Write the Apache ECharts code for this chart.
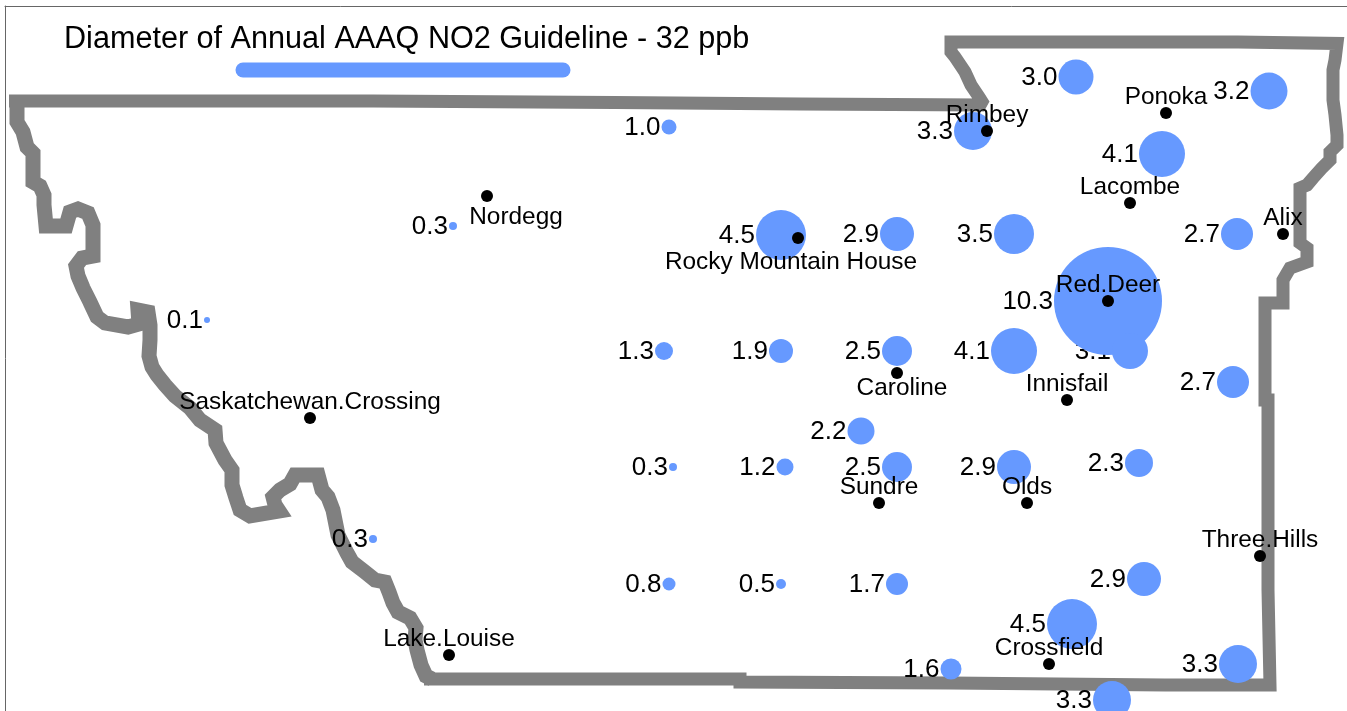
<!DOCTYPE html>
<html>
<head>
<meta charset="utf-8">
<title>Annual AAAQ NO2</title>
<script src="https://cdn.jsdelivr.net/npm/echarts@6/dist/echarts.min.js"></script>
<style>
  html, body { margin: 0; padding: 0; background: #fff; }
  #chart { width: 1347px; height: 711px; }
</style>
</head>
<body>
<div id="chart"></div>
<script>
// map outline, [x, y] in map units
// the western edge is the rough, heavier part
const boundaryWest = [
  [432, 679], [426, 676],
  [421, 665], [417, 650], [415, 640], [416, 628], [410, 618], [398, 612], [393, 603], [389, 592], [385, 582],
  [375, 580], [365, 572], [352, 562], [347, 553], [338, 535], [333, 510], [328, 497], [322, 490], [318, 475],
  [295, 475], [290, 484], [280, 490], [273, 497], [275, 505], [279, 511], [250, 516], [240, 510], [236, 498],
  [232, 485], [232, 470], [225, 460], [216, 443], [215, 430], [200, 420], [190, 408], [175, 396], [165, 385],
  [157, 375], [152, 367], [149, 356], [150, 340], [150, 325], [148, 312], [138, 310], [139, 324], [128, 327],
  [105, 323], [97, 317], [90, 302], [83, 288], [78, 276], [76, 266], [82, 258], [93, 256], [93, 225], [88, 213],
  [78, 209], [70, 212], [66, 226], [46, 226], [44, 205], [44, 195], [40, 186], [33, 182], [33, 153], [27, 147],
  [23, 132], [17, 122], [17, 100]
];
const boundaryRest = [
  [9, 101], [373, 101], [373, 102.5], [615, 102.5], [615, 104], [800, 104], [800, 105],
  [984, 105], [979, 97], [971, 85], [965, 72], [955, 57], [951, 52], [951, 42], [1238, 42], [1238, 43.5],
  [1337, 43.5], [1335, 60], [1333, 70], [1333, 100], [1335, 115], [1337, 135], [1337, 145], [1330, 152],
  [1330, 160], [1322, 168], [1313, 178], [1307, 185], [1300, 188], [1300, 243], [1307, 248], [1307, 262],
  [1290, 268], [1283, 280], [1283, 303], [1265, 303], [1265, 400], [1268, 400], [1268, 590], [1270, 590], [1270, 685],
  [1165, 685], [1165, 683], [950, 683], [950, 682], [740, 682], [740, 679], [424, 679]
];

// scale bar under the title, map units
const legendBar = [[243, 70], [563, 70]];

// annual NO2 at each grid point
const gridX = [669, 1076, 1269, 973, 1162, 453, 781, 897, 1014, 1237, 1108, 207, 664, 781, 897, 1014, 1130, 1233, 861, 673, 785, 897, 1014, 1139, 373, 669, 781, 897, 1144, 1072, 951, 1238, 1112];
const gridY = [127, 77, 91, 131, 154, 226, 235, 234, 234, 234, 301, 320, 351, 351, 351, 351, 351, 382, 431, 467, 467, 467, 467, 463, 539, 584, 584, 584, 579, 624, 669, 664, 700];
const no2Values = ['1.0', '3.0', '3.2', '3.3', '4.1', '0.3', '4.5', '2.9', '3.5', '2.7', '10.3', '0.1', '1.3', '1.9', '2.5', '4.1', '3.1', '2.7', '2.2', '0.3', '1.2', '2.5', '2.9', '2.3', '0.3', '0.8', '0.5', '1.7', '2.9', '4.5', '1.6', '3.3', '3.3'];

// towns
const townNames = ['Rimbey', 'Ponoka', 'Lacombe', 'Alix', 'Red.Deer', 'Innisfail', 'Sundre', 'Olds', 'Three.Hills', 'Crossfield', 'Lake.Louise', 'Saskatchewan.Crossing'];
const townX = [987, 1166, 1130, 1283, 1108, 1067, 879, 1027, 1260, 1049, 449, 310];
const townY = [131, 113, 203, 234, 301, 400, 503, 503, 556, 664, 655, 418];

// these have their names set below the dot
const lowNames = ['Nordegg', 'Rocky Mountain House', 'Caroline'];
const lowX = [487, 798, 897];
const lowY = [196, 238, 373];

const FONT = '"Liberation Sans", Arial, sans-serif';
const BLUE = '#6699ff';

const chart = echarts.init(document.getElementById('chart'));

const gridData = no2Values.map((v, i) => [gridX[i], gridY[i], Number(v), v]);
const bubbleSize = (d) => d[2] * 10 + 5;

chart.setOption({
  animation: false,
  backgroundColor: '#fff',
  title: {
    text: 'Diameter of Annual AAAQ NO2 Guideline - 32 ppb',
    left: 59,
    top: 19,
    textStyle: { color: '#000', fontFamily: FONT, fontSize: 30.6, fontWeight: 'normal' }
  },
  grid: { left: 5, right: 0, top: 6, bottom: 0 },
  xAxis: {
    type: 'value',
    position: 'top',
    min: 5,
    max: 1347,
    splitLine: { show: false },
    axisTick: { show: false },
    axisLabel: { show: false },
    axisLine: { show: true, onZero: false, lineStyle: { color: '#666', width: 1 } }
  },
  yAxis: {
    type: 'value',
    inverse: true,
    min: 6,
    max: 711,
    splitLine: { show: false },
    axisTick: { show: false },
    axisLabel: { show: false },
    axisLine: { show: true, onZero: false, lineStyle: { color: '#666', width: 1 } }
  },
  series: [
    {
      type: 'line',
      z: 1,
      data: boundaryWest,
      symbol: 'none',
      silent: true,
      lineStyle: { color: '#808080', width: 15, join: 'miter', miterLimit: 2 }
    },
    {
      type: 'line',
      z: 1,
      data: boundaryRest,
      symbol: 'none',
      silent: true,
      lineStyle: { color: '#808080', width: 13, join: 'miter', miterLimit: 2 }
    },
    {
      type: 'line',
      z: 2,
      data: legendBar,
      symbol: 'none',
      silent: true,
      lineStyle: { color: BLUE, width: 15, cap: 'round' }
    },
    // value labels go under the bubbles, the big one covers the 3.1
    {
      type: 'scatter',
      z: 3,
      data: gridData,
      symbolSize: bubbleSize,
      itemStyle: { color: 'transparent', opacity: 1 },
      silent: true,
      label: {
        show: true,
        position: 'left',
        distance: 1,
        offset: [0, 1],
        formatter: (p) => p.data[3],
        color: '#000',
        fontFamily: FONT,
        fontSize: 26
      }
    },
    {
      type: 'scatter',
      z: 4,
      data: gridData,
      symbolSize: bubbleSize,
      itemStyle: { color: BLUE, opacity: 1 },
      silent: true
    },
    {
      type: 'scatter',
      z: 5,
      data: townNames.map((n, i) => [townX[i], townY[i], n]),
      symbolSize: 12,
      itemStyle: { color: '#000', opacity: 1 },
      silent: true,
      label: {
        show: true,
        position: 'top',
        distance: -2.5,
        formatter: (p) => p.data[2],
        color: '#000',
        fontFamily: FONT,
        fontSize: 24.4
      }
    },
    {
      type: 'scatter',
      z: 5,
      data: lowNames.map((n, i) => [lowX[i], lowY[i], n]),
      symbolSize: 12,
      itemStyle: { color: '#000', opacity: 1 },
      silent: true,
      label: {
        show: true,
        position: 'bottom',
        distance: 0,
        formatter: (p) => p.data[2],
        color: '#000',
        fontFamily: FONT,
        fontSize: 24.4
      },
      labelLayout: (p) => ({
        dx: [29, -7, 5][p.dataIndex],
        dy: [3, 6, -3][p.dataIndex]
      })
    }
  ]
});
</script>
</body>
</html>
